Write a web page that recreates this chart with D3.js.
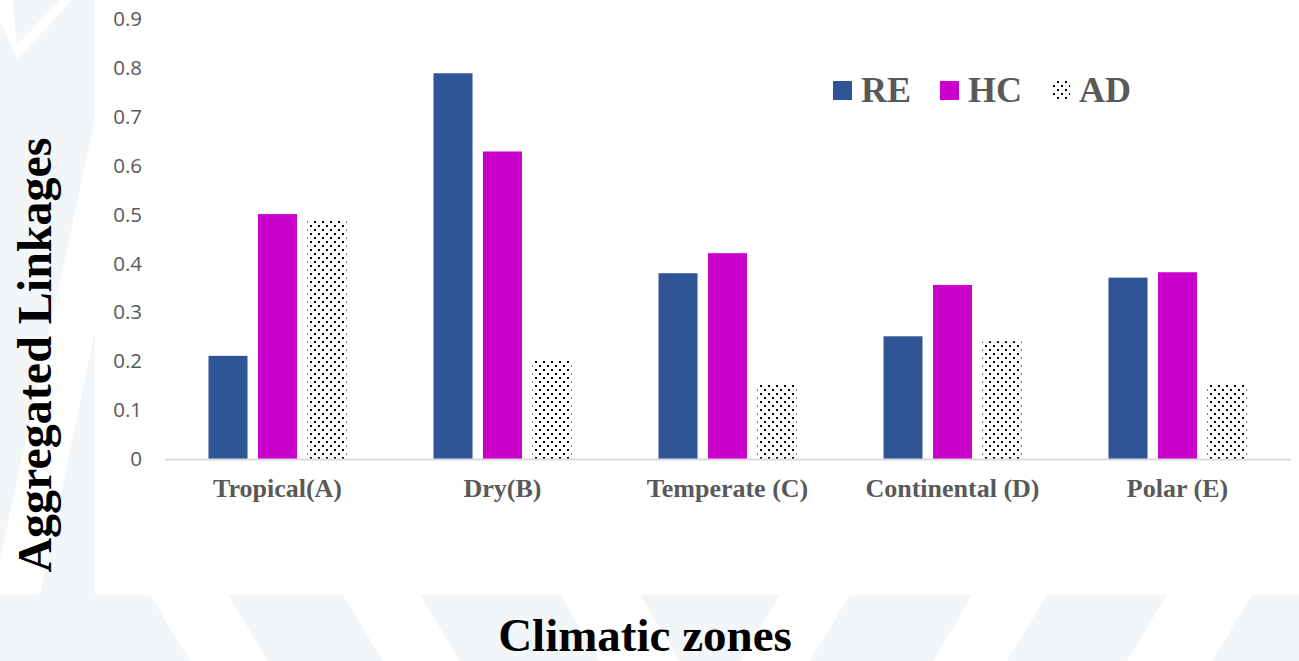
<!DOCTYPE html>
<html><head><meta charset="utf-8">
<script src="https://cdn.jsdelivr.net/npm/d3@7"></script>
<style>html,body{margin:0;padding:0;background:#fff;}svg{display:block;}</style>
</head><body>
<svg id="chart" width="1299" height="661"></svg>
<script>
const categories = ["Tropical(A)", "Dry(B)", "Temperate (C)", "Continental (D)", "Polar (E)"];
const series = ["RE", "HC", "AD"];
const valuesRE = [0.211, 0.789, 0.380, 0.251, 0.371];
const valuesHC = [0.501, 0.629, 0.421, 0.356, 0.382];
const valuesAD = [0.490, 0.203, 0.154, 0.241, 0.152];
const yTicks = [0, 0.1, 0.2, 0.3, 0.4, 0.5, 0.6, 0.7, 0.8, 0.9];
const yTickLabels = ["0", "0.1", "0.2", "0.3", "0.4", "0.5", "0.6", "0.7", "0.8", "0.9"];
const yTitle = "Aggregated Linkages";
const xTitle = "Climatic zones";

const seriesValues = {RE: valuesRE, HC: valuesHC, AD: valuesAD};
const colors = {RE: "#2F5597", HC: "#CC00CC", AD: "url(#dots)"};

const svg = d3.select("#chart");
const W = 1299, H = 661;

// background watermark
const bg = "#f3f6f9";
svg.append("rect").attr("width", W).attr("height", H).attr("fill", bg);
const deco = svg.append("g").attr("fill", "#fff");
[[150,595,228,595,268,661,190,661],[343,595,420,595,460,661,383,661],
 [560,595,640,595,680,661,600,661],
 [972,595,1047,595,1007,661,933,661],[1167,595,1252,595,1212,661,1127,661],
 [780,595,850,595,810,661,740,661]].forEach(p=>{
  deco.append("polygon").attr("points", d3.range(0,p.length,2).map(i=>p[i]+","+p[i+1]).join(" "));
});
deco.append("polygon").attr("points","0,0 12,0 17,45 60,0 72,0 17,60 0,20");
deco.append("polygon").attr("points","95,120 95,330 40,595 0,595 0,560");
svg.append("rect").attr("x", 95).attr("y", 0).attr("width", W-95).attr("height", 595).attr("fill", "#fff");

const defs = svg.append("defs");
const pat = defs.append("pattern").attr("id","dots").attr("patternUnits","userSpaceOnUse")
  .attr("width",8).attr("height",8).attr("x",0).attr("y",0);
pat.append("rect").attr("width",8).attr("height",8).attr("fill","#fff");
pat.append("rect").attr("x",1).attr("y",1).attr("width",2).attr("height",2).attr("fill","#000");
pat.append("rect").attr("x",5).attr("y",5).attr("width",2).attr("height",2).attr("fill","#000");

const x0 = d3.scaleBand().domain(categories).range([165, 1290]).paddingInner(0).paddingOuter(0);
const x1 = d3.scaleBand().domain(series).range([0, x0.bandwidth()]).paddingInner(0.212).paddingOuter(0.879);
const y = d3.scaleLinear().domain([0, 0.9]).range([459, 19]);

const yAxis = svg.append("g").attr("transform", "translate(165,0)")
  .call(d3.axisLeft(y).tickValues(yTicks).tickFormat((d,i)=>yTickLabels[i]).tickSize(0).tickPadding(23));
yAxis.select(".domain").remove();
yAxis.selectAll("text").attr("fill", "#595959").style("font-family", "'Open Sans', sans-serif").style("font-size", "20.5px");

const groups = svg.append("g").selectAll("g").data(categories).join("g")
  .attr("transform", d => `translate(${x0(d)},0)`);
groups.selectAll("rect").data((c, ci) => series.map(s => ({s, v: seriesValues[s][ci]})))
  .join("rect")
  .attr("x", d => x1(d.s)).attr("width", x1.bandwidth())
  .attr("y", d => y(d.v)).attr("height", d => y(0) - y(d.v))
  .attr("fill", d => colors[d.s]);

const xAxis = svg.append("g").attr("transform", `translate(0,${y(0)})`)
  .call(d3.axisBottom(x0).tickSize(0).tickPadding(19.5));
xAxis.select(".domain").attr("stroke", "#d9d9d9").attr("stroke-width", 2);
xAxis.selectAll("text").attr("fill", "#595959").style("font-family", "'Liberation Serif', 'Times New Roman', serif")
  .style("font-weight", "bold").style("font-size", "26px");

const legendX = [833, 940, 1051];
const leg = svg.append("g");
series.forEach((s, i) => {
  leg.append("rect").attr("x", legendX[i]).attr("y", 81).attr("width", 19).attr("height", 19).attr("fill", colors[s]);
  leg.append("text").attr("x", legendX[i] + 28).attr("y", 102).text(s)
    .attr("fill", "#595959").style("font-family", "'Liberation Serif', 'Times New Roman', serif")
    .style("font-weight", "bold").style("font-size", "36px");
});

svg.append("text").attr("transform", "translate(51,355) rotate(-90)").attr("text-anchor", "middle")
  .text(yTitle).attr("fill", "#000").style("font-family", "'Liberation Serif', 'Times New Roman', serif")
  .style("font-weight", "bold").style("font-size", "48px");
svg.append("text").attr("x", 645).attr("y", 651).attr("text-anchor", "middle")
  .text(xTitle).attr("fill", "#000").style("font-family", "'Liberation Serif', 'Times New Roman', serif")
  .style("font-weight", "bold").style("font-size", "47px");
</script>
</body></html>
